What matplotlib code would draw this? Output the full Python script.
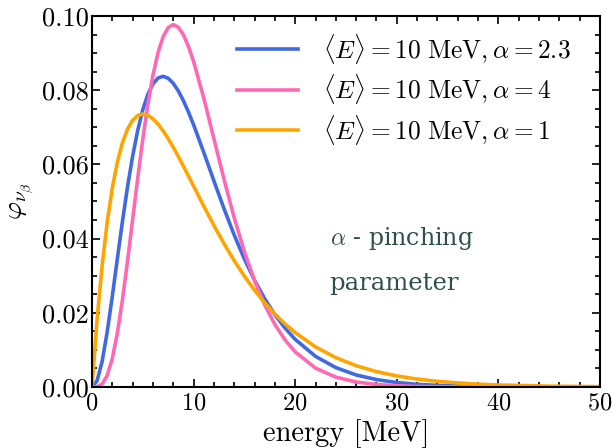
import matplotlib
matplotlib.use("Agg")
import matplotlib.pyplot as plt
from matplotlib.ticker import MultipleLocator, FormatStrFormatter

plt.rcParams['font.family'] = 'serif'
plt.rcParams['font.serif'] = ['cmr10']
plt.rcParams['mathtext.fontset'] = 'cm'
plt.rcParams['axes.formatter.use_mathtext'] = True

# energy grid [MeV]
energy = [0, 0.5, 1, 1.5, 2, 2.5, 3, 3.5, 4, 4.5, 5, 5.5, 6, 6.5, 7, 7.5, 8, 8.5, 9, 9.5, 10,
          11, 12, 13, 14, 15, 16, 17, 18, 19, 20,
          22, 24, 26, 28, 30, 32, 34, 36, 38, 40, 45, 50]

# <E> = 10 MeV, alpha = 2.3
phi_a23 = [0, 0.00165, 0.0069, 0.01488, 0.02445, 0.03463, 0.04466, 0.05397, 0.06221, 0.06916,
           0.07472, 0.07888, 0.08171, 0.08328, 0.08374, 0.08321, 0.08184, 0.07978, 0.07715,
           0.07407, 0.07068,
           0.06325, 0.05555, 0.04802, 0.04095, 0.03449, 0.02876, 0.02378, 0.0195, 0.01587, 0.01284,
           0.00826, 0.00522, 0.00324, 0.00199, 0.0012, 0.00072, 0.00043, 0.00025, 0.00015,
           0.000086, 0.000022, 0.000005]

# <E> = 10 MeV, alpha = 4
phi_a4 = [0, 0.00006, 0.00079, 0.00311, 0.00766, 0.01457, 0.02353, 0.03395, 0.04511, 0.05628,
          0.0668, 0.07617, 0.08402, 0.09012, 0.0944, 0.09689, 0.09768, 0.09695, 0.09491,
          0.09176, 0.08773,
          0.07791, 0.06693, 0.05591, 0.04561, 0.03646, 0.02863, 0.02213, 0.01687, 0.0127, 0.00946,
          0.00509, 0.00265, 0.00134, 0.00067, 0.00032, 0.00015, 0.00007, 0.00003, 0.00001,
          0.000007, 0.000001, 0.0]

# <E> = 10 MeV, alpha = 1
phi_a1 = [0, 0.0181, 0.03275, 0.04445, 0.05363, 0.06065, 0.06586, 0.06952, 0.07189, 0.07318,
          0.07358, 0.07323, 0.07229, 0.07086, 0.06905, 0.06694, 0.06461, 0.06211, 0.05951,
          0.05684, 0.05413,
          0.04875, 0.04354, 0.03862, 0.03405, 0.02987, 0.02609, 0.02269, 0.01967, 0.017, 0.01465,
          0.01081, 0.0079, 0.00574, 0.00414, 0.00297, 0.00213, 0.00152, 0.00108, 0.00076,
          0.00054, 0.00022, 0.00009]

fig = plt.figure(figsize=(6.12, 4.48), dpi=100)
ax = fig.add_axes([0.1503, 0.1362, 0.8301, 0.8281])

ax.plot(energy, phi_a23, color='#4169E1', lw=2.6, label=r'$\langle E\rangle = 10\ \mathrm{MeV}, \alpha = 2.3$')
ax.plot(energy, phi_a4, color='#FF69B4', lw=2.6, label=r'$\langle E\rangle = 10\ \mathrm{MeV}, \alpha = 4$')
ax.plot(energy, phi_a1, color='#FFA500', lw=2.6, label=r'$\langle E\rangle = 10\ \mathrm{MeV}, \alpha = 1$')

ax.set_xlim(0, 50)
ax.set_ylim(0, 0.10)
ax.xaxis.set_major_locator(MultipleLocator(10))
ax.xaxis.set_minor_locator(MultipleLocator(2))
ax.yaxis.set_major_locator(MultipleLocator(0.02))
ax.yaxis.set_minor_locator(MultipleLocator(0.005))
ax.yaxis.set_major_formatter(FormatStrFormatter('%.2f'))
ax.tick_params(which='both', direction='in', top=True, right=True, width=1.2)
ax.tick_params(which='major', length=6)
ax.tick_params(which='minor', length=3.5)
ax.tick_params(axis='y', pad=2.5, labelsize=19)
ax.tick_params(axis='x', pad=4, labelsize=17.5)
for s in ax.spines.values():
    s.set_linewidth(1.5)

ax.set_xlabel('energy [MeV]', fontsize=20.5, labelpad=3)
ax.set_ylabel(r'$\varphi_{\nu_\beta}$', fontsize=20, labelpad=4)

ax.legend(loc='upper left', bbox_to_anchor=(0.2854, 0.958), frameon=False, fontsize=18.3,
          handlelength=2.4, handletextpad=1.0, labelspacing=0.26,
          borderpad=0, borderaxespad=0)

ax.text(23.4, 0.0383, r'$\alpha$ - pinching', fontsize=17,
        family='DejaVu Serif', color='#2F4F4F', va='baseline', ha='left')
ax.text(23.4, 0.0262, 'parameter', fontsize=17.5,
        family='DejaVu Serif', color='#2F4F4F', va='baseline', ha='left')

fig.savefig('out.png', dpi=100)
